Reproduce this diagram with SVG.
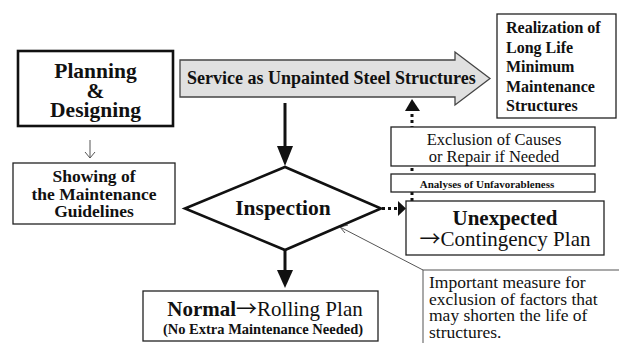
<svg xmlns="http://www.w3.org/2000/svg" width="619" height="343" viewBox="0 0 619 343">
<style>
text{font-family:'Liberation Serif','Tinos','Times New Roman','DejaVu Serif',serif;fill:#111}
.b{font-weight:bold}
.arr{font-family:'Noto Sans CJK JP','Noto Sans CJK SC',sans-serif;font-weight:normal}
.box{fill:#fff;stroke:#222;stroke-width:1.3}
.thick{fill:#fff;stroke:#111;stroke-width:2.6}
.conn{stroke:#111;stroke-width:3;fill:none}
.dot{stroke:#111;stroke-width:3;fill:none;stroke-dasharray:3 3}
.thin{stroke:#555;stroke-width:1;fill:none}
</style>
<rect width="619" height="343" fill="#fff"/>
<g id="connectors">
  <line class="conn" x1="285" y1="103" x2="285" y2="148"/>
  <polygon points="277,146 293,146 285,166" fill="#111"/>
  <line class="conn" x1="285" y1="250" x2="285" y2="272"/>
  <polygon points="277,270 293,270 285,288" fill="#111"/>
  <line class="dot" x1="412" y1="201" x2="412" y2="112"/>
  <polygon points="405,111 420,111 412,99" fill="#111"/>
  <line class="dot" x1="382" y1="208.5" x2="399" y2="208.5"/>
  <polygon points="398,201 398,216 406,208.5" fill="#111"/>
  <line class="thin" x1="90" y1="140" x2="90" y2="158"/>
  <polyline class="thin" points="85,152 90,158 95,152"/>
  <line class="thin" x1="340" y1="227" x2="423" y2="270"/>
  <polyline class="thin" points="348,225 340,227 345,233"/>
</g>
<g id="planning">
  <rect class="thick" x="18" y="51" width="155" height="75"/>
  <text class="b" font-size="21.5" text-anchor="middle" x="95.5" y="78">Planning</text>
  <text class="b" font-size="21.5" text-anchor="middle" x="95.5" y="98">&amp;</text>
  <text class="b" font-size="21.5" text-anchor="middle" x="95.5" y="117">Designing</text>
</g>
<g id="showing">
  <rect class="box" x="13" y="163" width="162" height="61"/>
  <text class="b" font-size="17.5" text-anchor="middle" x="94" y="182">Showing of</text>
  <text class="b" font-size="17.5" text-anchor="middle" x="94" y="199.5">the Maintenance</text>
  <text class="b" font-size="17.5" text-anchor="middle" x="94" y="217">Guidelines</text>
</g>
<g id="service">
  <polygon points="180,60 455,60 455,52 490,78.5 455,105 455,97 180,97" fill="#e0e0e0" stroke="#444" stroke-width="1.3"/>
  <text class="b" font-size="18" x="187" y="84">Service as Unpainted Steel Structures</text>
</g>
<g id="realization">
  <rect class="box" x="497" y="14" width="119" height="104" stroke-width="1.6"/>
  <text class="b" font-size="16" x="506" y="33">Realization of</text>
  <text class="b" font-size="16" x="506" y="52.5">Long Life</text>
  <text class="b" font-size="16" x="506" y="72">Minimum</text>
  <text class="b" font-size="16" x="506" y="91.5">Maintenance</text>
  <text class="b" font-size="16" x="506" y="111">Structures</text>
</g>
<g id="exclusion">
  <rect class="box" x="391" y="127" width="204" height="39"/>
  <text font-size="16.5" text-anchor="middle" x="494" y="145">Exclusion of Causes</text>
  <text font-size="16.5" text-anchor="middle" x="494" y="162">or Repair if Needed</text>
</g>
<g id="analyses">
  <rect class="box" x="391" y="174" width="204" height="18"/>
  <text class="b" font-size="11" text-anchor="middle" x="487" y="187.5">Analyses of Unfavorableness</text>
</g>
<g id="inspection">
  <polygon points="185,208.5 285,167 381,208.5 285,250" fill="#fff" stroke="#111" stroke-width="2.6"/>
  <text class="b" font-size="21.5" text-anchor="middle" x="283" y="215">Inspection</text>
</g>
<g id="unexpected">
  <rect class="box" x="406" y="201" width="198" height="54"/>
  <text class="b" font-size="21" text-anchor="middle" x="505" y="225">Unexpected</text>
  <text font-size="21" text-anchor="middle" x="505" y="246"><tspan class="arr">→</tspan>Contingency Plan</text>
</g>
<g id="normal">
  <rect class="box" x="143" y="291" width="235" height="50"/>
  <text font-size="21" text-anchor="middle" x="265" y="316"><tspan class="b">Normal</tspan><tspan class="arr">→</tspan>Rolling Plan</text>
  <text class="b" font-size="14.5" text-anchor="middle" x="263" y="334">(No Extra Maintenance Needed)</text>
</g>
<g id="note">
  <rect x="423" y="270" width="200" height="80" fill="#fff" stroke="#555" stroke-width="1"/>
  <text font-size="17.5" x="429" y="288">Important measure for</text>
  <text font-size="17.5" x="429" y="304.5">exclusion of factors that</text>
  <text font-size="17.5" x="429" y="321">may shorten the life of</text>
  <text font-size="17.5" x="429" y="337.5">structures.</text>
</g>
</svg>
